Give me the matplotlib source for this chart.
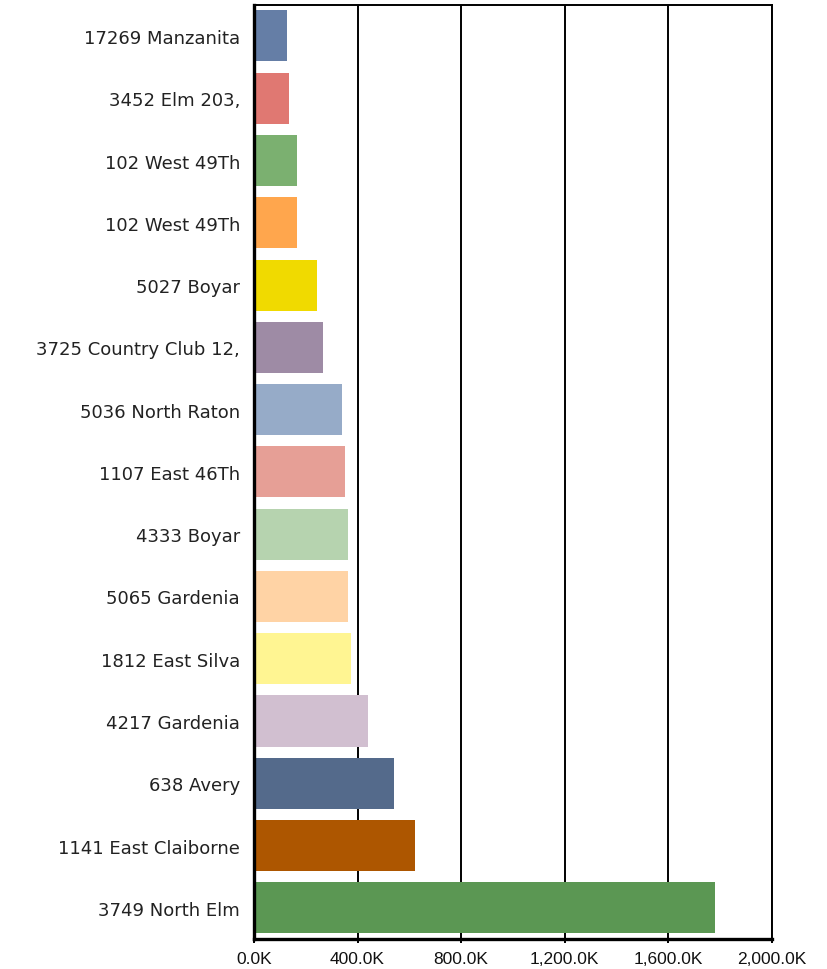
import matplotlib.pyplot as plt
from matplotlib.ticker import FuncFormatter

# --- data (values in thousands) ---
addresses = [
    "17269 Manzanita", "3452 Elm 203,", "102 West 49Th", "102 West 49Th",
    "5027 Boyar", "3725 Country Club 12,", "5036 North Raton", "1107 East 46Th",
    "4333 Boyar", "5065 Gardenia", "1812 East Silva", "4217 Gardenia",
    "638 Avery", "1141 East Claiborne", "3749 North Elm",
]
values_k = [127, 135, 166, 166, 242, 265, 342, 350, 362, 362, 373, 442, 542, 623, 1780]
bar_colors = [
    "#657EA6", "#E07872", "#7BB070", "#FFA64D", "#F0DA00", "#9E8BA5",
    "#96ABC8", "#E69F96", "#B6D3AF", "#FFD3A5", "#FFF592", "#D1BFD0",
    "#546A8B", "#AD5600", "#5B9753",
]
x_ticks = [0, 400, 800, 1200, 1600, 2000]

fig = plt.figure(figsize=(8.27, 9.70), dpi=100)
ax = fig.add_axes([0.307, 0.031, 0.6265, 0.963])

pos = list(range(len(addresses)))
ax.barh(pos, values_k, height=0.82, color=bar_colors, zorder=3)

ax.set_ylim(len(addresses) - 0.5, -0.5)
ax.set_xlim(0, 2000)
ax.set_xticks(x_ticks)
ax.xaxis.set_major_formatter(FuncFormatter(lambda v, p: f"{v:,.1f}K"))
ax.grid(axis="x", color="black", linewidth=1.4, zorder=1)

ax.set_yticks(pos)
ax.set_yticklabels(addresses, fontsize=13, family="DejaVu Sans", color="#222222")
ax.tick_params(axis="y", length=0, pad=10)
ax.tick_params(axis="x", length=3, width=1.4, color="black", pad=6)
for lbl in ax.get_xticklabels():
    lbl.set_family("Liberation Sans")
    lbl.set_fontsize(12.5)
    lbl.set_color("#111111")

for side in ["top", "right"]:
    ax.spines[side].set_linewidth(1.4)
for side in ["left", "bottom"]:
    ax.spines[side].set_linewidth(2.4)
ax.spines["left"].set_zorder(4)

fig.savefig("out.png", dpi=100)
